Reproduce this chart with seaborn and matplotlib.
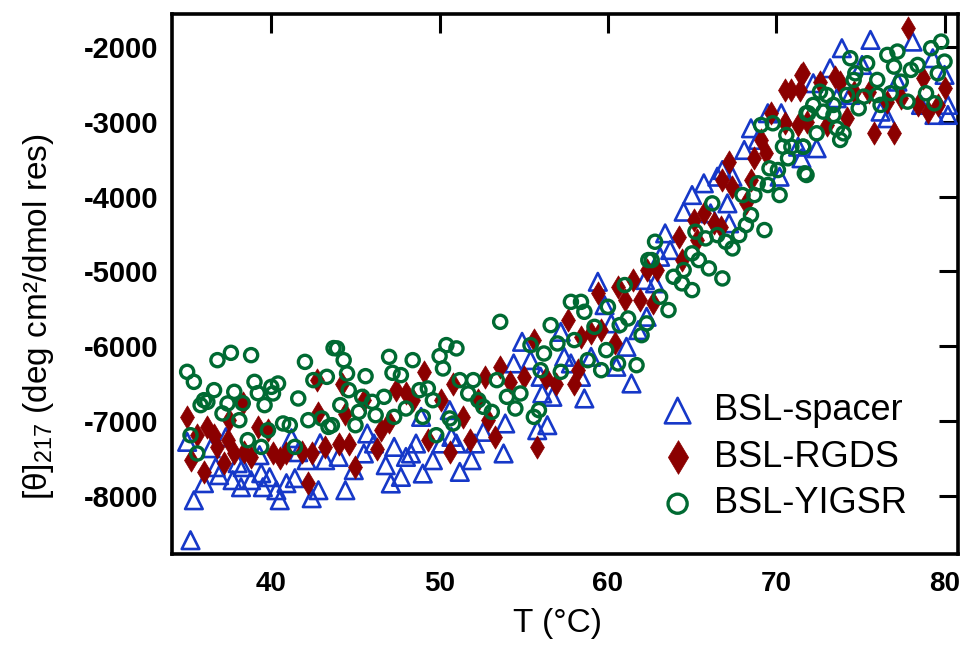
import matplotlib
matplotlib.use("Agg")
import matplotlib.pyplot as plt
import seaborn as sns
import pandas as pd

# ---- data ----
spacer_T = [35.2, 35.4, 35.0, 36.0, 36.4, 36.9, 37.3, 37.7, 38.2, 38.3, 38.8, 39.5, 39.4, 39.9,
            40.5, 40.3, 40.9, 41.4, 41.6, 41.2, 42.1, 42.4, 42.8, 43.2, 42.9, 39.3, 38.0, 36.7,
            44.4, 44.9, 45.7, 45.5, 46.1, 46.8, 47.1, 47.3, 47.7, 48.0, 48.3, 48.6, 49.0, 49.6,
            50.1, 50.7, 50.6, 51.0, 51.2, 51.9, 52.1, 52.6, 48.9, 44.0,
            53.8, 53.9, 54.4, 54.9, 55.4, 55.8, 56.4, 56.1, 56.7, 57.2, 57.8, 58.6, 58.4, 59.4,
            59.8, 60.2, 60.5, 61.1, 61.4, 61.8, 62.3, 62.2, 56.0, 59.0, 57.4,
            63.4, 63.1, 62.8, 64.5, 65.0, 65.7, 66.5, 66.8, 67.1, 67.2, 67.4, 68.1, 68.5, 68.9,
            69.5, 70.3, 70.2, 71.3, 66.1, 63.7,
            72.2, 73.2, 73.9, 75.6, 78.1, 79.3, 80.0, 80.2, 80.2, 79.4, 76.6, 76.2, 72.4, 71.5,
            73.6, 75.1, 77.2, 78.6, 74.4]
spacer_V = [-8591, -8057, -7277, -7829, -7362, -7722, -7214, -7789, -7883, -7615, -7789, -7883, -7696, -7749,
            -8057, -7923, -7829, -7762, -7415, -7228, -7522, -8030, -7923, -7522, -7295, -7455, -7562, -7615,
            -7923, -7655, -7165, -7432, -7299, -7589, -7833, -7344, -7745, -7478, -7432, -7299, -7700, -7522,
            -7299, -7210, -6853, -7299, -7678, -7522, -7299, -7143, -6943, -7478,
            -7432, -7031, -6229, -5940, -6185, -7121, -7054, -6630, -6675, -5807, -6229, -6697, -6408, -5138,
            -5450, -5694, -6274, -6007, -6497, -5784, -5606, -5115, -6408, -6141, -6141,
            -4491, -4804, -5159, -4202, -3979, -3822, -3734, -3645, -4090, -4357, -3734, -3377, -3087, -3243,
            -2886, -2886, -3734, -3333, -4224, -4714,
            -2485, -2285, -2017, -1906, -1929, -2151, -2374, -2775, -2909, -2909, -2953, -2865, -3354, -3488,
            -2686, -2241, -2464, -2775, -2642]

rgds_T = [35.0, 35.2, 36.0, 35.6, 36.2, 36.6, 36.8, 37.4, 37.2, 37.8, 38.3, 38.4, 38.8, 39.2,
          39.8, 40.1, 40.5, 40.9, 41.8, 42.2, 42.4, 42.7, 42.8, 43.2, 37.5,
          45.0, 44.0, 44.6, 44.4, 44.2, 45.5, 46.3, 46.5, 47.0, 47.4, 48.0, 48.4, 49.1, 49.3,
          50.1, 50.6, 50.8, 51.4, 51.8, 52.3, 52.7, 52.9,
          53.3, 53.6, 54.2, 55.0, 55.8, 55.6, 56.3, 56.9, 57.6, 58.0, 58.2, 58.4, 59.4, 60.6,
          61.0, 61.5, 61.9, 62.3, 59.6, 59.0, 60.4,
          62.9, 62.7, 64.2, 64.4, 65.3, 65.7, 66.3, 66.7, 66.8, 67.2, 67.4, 68.2, 68.5, 68.7,
          69.1, 69.4, 69.7, 70.5, 70.9, 71.4, 71.5, 70.5, 71.3, 65.1,
          77.8, 71.6, 72.6, 73.5, 73.8, 74.2, 73.0, 71.8, 75.8, 77.0, 76.6, 77.4, 78.4, 79.0,
          79.6, 80.0, 78.7, 75.5, 74.6]
rgds_V = [-6943, -7522, -7678, -7188, -7077, -7188, -7344, -7255, -7562, -7428, -6760, -7411, -7478, -7077,
          -7121, -7428, -7495, -7428, -7411, -7829, -7428, -6452, -6893, -7344, -6987,
          -7611, -7299, -7299, -6898, -6497, -6720, -7366, -7121, -7010, -6586, -6630, -6720, -6341, -7254,
          -6720, -7411, -6497, -6943, -7254, -6720, -6408, -6987,
          -7210, -6274, -6475, -6408, -7344, -5917, -6430, -6497, -5650, -6497, -6319, -5873, -5294, -5204,
          -5383, -5115, -5383, -4981, -5784, -5828, -5962,
          -4981, -5427, -4536, -4848, -4580, -4224, -4357, -4402, -3778, -3533, -3868, -4090, -3778, -3488,
          -3243, -3421, -2886, -2575, -2575, -2575, -2374, -3020, -3043, -4313,
          -1750, -2352, -2464, -2397, -2464, -2953, -3043, -2998, -3154, -3154, -2731, -2686, -2775, -2865,
          -2775, -2552, -2418, -2598, -2598]

yigsr_T = [35.0, 35.4, 36.8, 37.6, 38.8, 42.0, 43.7, 35.8, 36.2, 36.6, 37.1, 37.4, 37.8, 38.3,
           38.1, 39.0, 39.2, 39.6, 40.0, 40.4, 40.1, 41.6, 42.5, 43.3, 35.2, 35.6, 38.6, 39.4,
           39.8, 40.7, 41.1, 41.4, 42.2, 43.0, 43.4, 36.0,
           43.9, 44.3, 44.5, 45.6, 47.0, 47.2, 48.4, 47.7, 50.4, 51.0, 50.0, 50.2, 44.6, 44.1,
           45.4, 45.2, 46.0, 46.7, 46.2, 45.0, 47.3, 48.0, 48.8, 49.3, 49.6, 49.0, 50.6, 50.8,
           49.8, 51.2, 52.0, 51.7, 52.3, 52.6, 43.6,
           53.6, 53.4, 53.1, 54.0, 54.8, 54.5, 55.6, 55.9, 55.4, 56.2, 56.6, 56.0, 57.0, 57.2,
           57.8, 58.4, 58.6, 58.0, 58.8, 59.2, 59.6, 59.9, 60.0, 60.6, 61.0, 60.7, 61.2, 61.7,
           62.0, 62.3, 62.4,
           62.8, 62.6, 63.1, 63.6, 63.9, 64.4, 65.0, 65.4, 66.0, 66.8, 65.2, 65.8, 66.5, 67.0,
           67.4, 67.8, 68.2, 68.5, 69.3, 66.2, 68.0, 68.7, 68.9, 69.5, 70.2, 69.6, 70.1, 70.7,
           70.4, 70.9, 71.6, 71.7, 69.1, 69.8, 70.6, 71.8, 64.5, 65.0,
           79.8, 79.2, 80.0, 79.6, 76.6, 77.2, 77.0, 74.4, 75.4, 74.7, 74.6, 76.0, 78.0, 78.4,
           77.4, 74.2, 75.2, 76.0, 76.8, 76.2, 74.9, 77.8, 78.9, 79.4, 72.6, 73.0, 72.2, 71.9,
           72.8, 73.4, 73.6, 74.0, 73.8, 72.4, 71.6, 71.8, 73.4]
yigsr_V = [-6341, -6475, -6185, -6087, -6118, -6208, -6024, -6786, -6742, -6586, -6897, -6764, -6608, -6760,
           -6987, -6475, -6626, -6786, -6542, -6497, -6630, -6697, -6452, -6408, -7188, -7432, -7254, -7344,
           -7121, -7031, -7054, -7344, -6987, -6964, -7077, -6720,
           -6028, -6185, -6363, -6399, -6141, -6354, -6185, -6385, -5984, -6028, -6131, -6296, -6586, -6786,
           -6675, -6876, -6742, -6675, -6920, -7054, -6943, -6831, -6586, -6563, -6720, -6943, -6964, -7031,
           -7188, -6452, -6452, -6630, -6720, -6809, -7054,
           -5673, -6452, -6876, -6675, -6630, -6831, -6943, -6853, -5984, -6096, -5717, -6319, -5962, -6341,
           -5406, -5406, -5539, -5917, -6185, -5740, -6319, -6051, -5472, -6229, -5182, -5717, -5628, -6252,
           -5851, -5694, -4848,
           -4603, -4848, -5338, -5516, -5071, -5159, -5249, -4848, -4959, -5093, -4469, -4558, -4514, -4603,
           -4692, -4514, -4380, -4246, -4447, -4090, -3979, -3979, -3822, -3845, -3979, -3622, -3645, -3488,
           -3333, -3333, -3333, -3689, -3043, -3020, -3177, -2886, -4981, -4758,
           -1929, -2017, -2196, -2352, -2107, -2062, -2263, -2151, -2218, -2352, -2441, -2441, -2307, -2241,
           -2464, -2642, -2664, -2642, -2619, -2775, -2820, -2731, -2619, -2753, -2598, -2642, -2775, -2886,
           -2865, -2909, -3087, -3154, -3243, -3154, -3333, -3711, -2775]

x_ticks = [40, 50, 60, 70, 80]
y_ticks = [-8000, -7000, -6000, -5000, -4000, -3000, -2000]

# ---- styling ----
sns.set_theme(style="white")
plt.rcParams['font.family'] = ['Liberation Sans', 'DejaVu Sans']
plt.rcParams['mathtext.fontset'] = 'custom'
plt.rcParams['mathtext.rm'] = 'Liberation Sans'
plt.rcParams['mathtext.it'] = 'Liberation Sans'
for key in ['text.color', 'axes.labelcolor', 'xtick.color', 'ytick.color', 'axes.edgecolor']:
    plt.rcParams[key] = 'black'

BLUE = '#1638c8'
RED = '#8b0000'
GREEN = '#006a32'

fig = plt.figure(figsize=(9.64, 6.48), dpi=100)
ax = fig.add_axes([172 / 964, 1 - 554 / 648, (958 - 172) / 964, (554 - 14) / 648])

df_s = pd.DataFrame({'T': spacer_T, 'V': spacer_V})
df_r = pd.DataFrame({'T': rgds_T, 'V': rgds_V})
df_y = pd.DataFrame({'T': yigsr_T, 'V': yigsr_V})

sns.scatterplot(data=df_s, x='T', y='V', ax=ax, marker='^', s=160,
                facecolors='none', edgecolor=BLUE, linewidth=1.9, label='BSL-spacer', zorder=3)
sns.scatterplot(data=df_r, x='T', y='V', ax=ax, marker='d', s=140,
                color=RED, edgecolor=RED, linewidth=0.5, label='BSL-RGDS', zorder=3)
sns.scatterplot(data=df_y, x='T', y='V', ax=ax, marker='o', s=90,
                facecolors='none', edgecolor=GREEN, linewidth=2.4, label='BSL-YIGSR', zorder=3)

ax.set_xlim(34.1, 80.8)
ax.set_ylim(-8775, -1560)
ax.set_xticks(x_ticks)
ax.set_yticks(y_ticks)
ax.set_xticklabels([str(v) for v in x_ticks], fontsize=20, fontweight='bold')
ax.set_yticklabels([str(v) for v in y_ticks], fontsize=21, fontweight='bold')
ax.tick_params(axis='both', which='major', direction='in', length=14, width=2.2,
               top=True, right=True, color='black')
ax.tick_params(axis='x', pad=12)
ax.tick_params(axis='y', pad=10)
for sp in ax.spines.values():
    sp.set_linewidth(2.6)
    sp.set_color('black')

ax.set_xlabel('T (°C)', fontsize=24)
ax.set_ylabel('[θ]$_{217}$ (deg cm²/dmol res)', fontsize=24)
ax.xaxis.set_label_coords(0.491, -0.10)
ax.yaxis.set_label_coords(-0.148, 0.44)

leg = ax.legend(loc='upper left', bbox_to_anchor=(0.618, 0.298), frameon=False,
                fontsize=26, handlelength=1.1, handletextpad=0.45, labelspacing=0.32,
                borderpad=0, borderaxespad=0, markerscale=1.45)

fig.savefig('out.png', dpi=100)
